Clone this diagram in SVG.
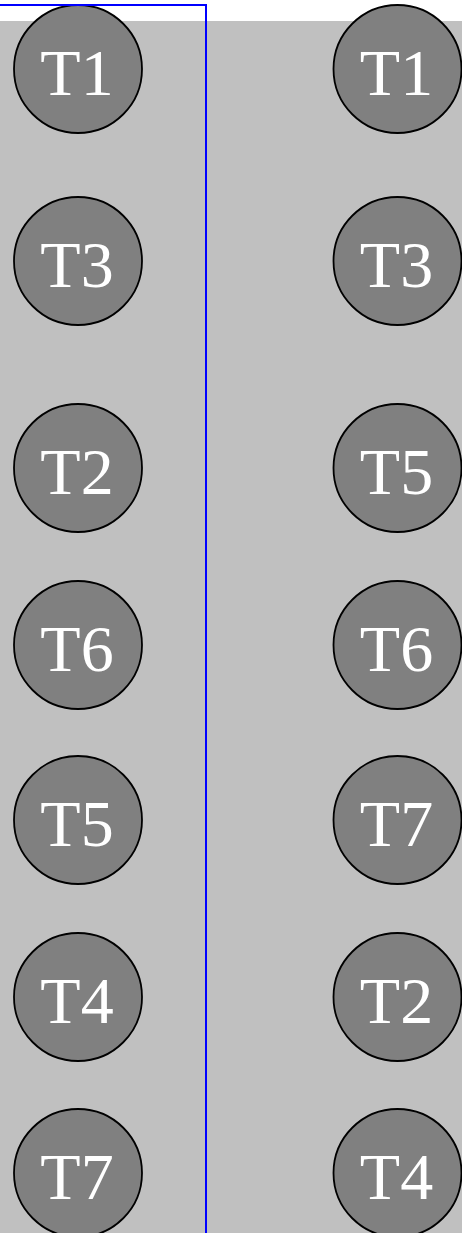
<svg xmlns="http://www.w3.org/2000/svg" width="462" height="1233" viewBox="0 0 462 1233">
<style>
.bg{fill:#c0c0c0;stroke:none}
.frame{fill:none;stroke:#0000ff;stroke-width:2}
.node circle{fill:#808080;stroke:#000;stroke-width:1.8}
.node text{fill:#fff;font-family:"Liberation Serif","Times New Roman",serif;font-size:66px;text-anchor:middle}
</style>
<rect class="bg" x="0" y="21" width="462" height="1212"/>
<g id="connectors"/>
<g id="L-T1" class="node"><circle cx="78" cy="69" r="64"/><text x="77" y="95">T1</text></g>
<g id="L-T3" class="node"><circle cx="78" cy="261" r="64"/><text x="77" y="287">T3</text></g>
<g id="L-T2" class="node"><circle cx="78" cy="468" r="64"/><text x="77" y="494">T2</text></g>
<g id="L-T6" class="node"><circle cx="78" cy="645" r="64"/><text x="77" y="671">T6</text></g>
<g id="L-T5" class="node"><circle cx="78" cy="820" r="64"/><text x="77" y="846">T5</text></g>
<g id="L-T4" class="node"><circle cx="78" cy="997" r="64"/><text x="77" y="1023">T4</text></g>
<g id="L-T7" class="node"><circle cx="78" cy="1173" r="64"/><text x="77" y="1199">T7</text></g>
<g id="R-T1" class="node"><circle cx="397.5" cy="69" r="64"/><text x="396.5" y="95">T1</text></g>
<g id="R-T3" class="node"><circle cx="397.5" cy="261" r="64"/><text x="396.5" y="287">T3</text></g>
<g id="R-T5" class="node"><circle cx="397.5" cy="468" r="64"/><text x="396.5" y="494">T5</text></g>
<g id="R-T6" class="node"><circle cx="397.5" cy="645" r="64"/><text x="396.5" y="671">T6</text></g>
<g id="R-T7" class="node"><circle cx="397.5" cy="820" r="64"/><text x="396.5" y="846">T7</text></g>
<g id="R-T2" class="node"><circle cx="397.5" cy="997" r="64"/><text x="396.5" y="1023">T2</text></g>
<g id="R-T4" class="node"><circle cx="397.5" cy="1173" r="64"/><text x="396.5" y="1199">T4</text></g>
<rect class="frame" x="-10" y="5" width="216" height="1240"/>
</svg>
